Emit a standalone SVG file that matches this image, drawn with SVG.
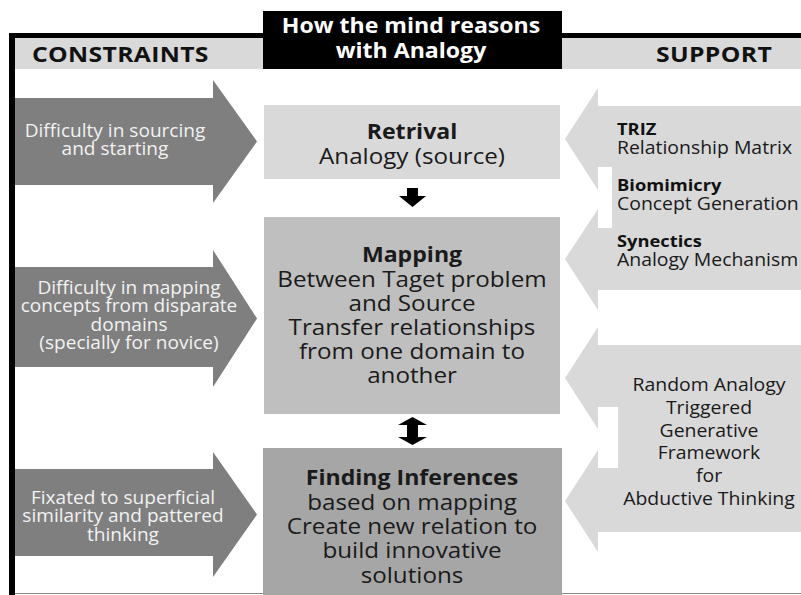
<svg xmlns="http://www.w3.org/2000/svg" width="801" height="595" viewBox="0 0 801 595">
<style>
text{font-family:"Open Sans","DejaVu Sans",sans-serif;}
.hdr{font-size:21.5px;font-weight:bold;fill:#111;letter-spacing:0.3px;}
.ttl{font-size:21px;font-weight:bold;fill:#fff;text-anchor:middle;}
.larr{fill:#7f7f7f;}
.ltx{font-size:17.5px;fill:#f2f2f2;text-anchor:middle;}
.rarr{fill:#d9d9d9;}
.rtx{font-size:17.5px;fill:#1a1a1a;}
.rtb{font-size:16.5px;fill:#111;font-weight:bold;}
.ctx{font-size:22px;fill:#1a1a1a;text-anchor:middle;}
.cb{font-weight:bold;font-size:21px;}
.conn{fill:#000;}
</style>
<rect width="801" height="595" fill="#fff"/>
<g id="frame">
<rect x="15" y="38" width="786" height="31" fill="#d9d9d9"/>
<rect x="9" y="33" width="792" height="5" fill="#000"/>
<rect x="9" y="33" width="6" height="562" fill="#000"/>
<line x1="15" y1="593.5" x2="801" y2="593.5" stroke="#8a8a8a" stroke-width="1"/>
<g transform="translate(32,0) scale(1.15,1)"><text class="hdr" x="0" y="62">CONSTRAINTS</text></g>
<g transform="translate(656,0) scale(1.15,1)"><text class="hdr" x="0" y="62">SUPPORT</text></g>
</g>
<g id="title">
<rect x="263" y="11" width="299" height="58" fill="#000"/>
<g transform="translate(411,0) scale(1.1,1)">
<text class="ttl" x="0" y="33">How the mind reasons</text>
<text class="ttl" x="0" y="58">with Analogy</text>
</g>
</g>
<g id="constraint1">
<polygon class="larr" points="15,98 213,98 213,80 257,141.5 213,203 213,185 15,185"/>
<g transform="translate(115,0) scale(1.09,1)">
<text class="ltx" x="0" y="137">Difficulty in sourcing</text>
<text class="ltx" x="0" y="155.5">and starting</text>
</g>
</g>
<g id="constraint2">
<polygon class="larr" points="15,267 213,267 213,250 257,318.5 213,387 213,367 15,367"/>
<g transform="translate(129,0) scale(1.09,1)">
<text class="ltx" x="0" y="294">Difficulty in mapping</text>
<text class="ltx" x="0" y="312.5">concepts from disparate</text>
<text class="ltx" x="0" y="331">domains</text>
<text class="ltx" x="0" y="349.5">(specially for novice)</text>
</g>
</g>
<g id="constraint3">
<polygon class="larr" points="15,469 213,469 213,452 257,514.5 213,577 213,556 15,556"/>
<g transform="translate(123,0) scale(1.09,1)">
<text class="ltx" x="0" y="504">Fixated to superficial</text>
<text class="ltx" x="0" y="522.5">similarity and pattered</text>
<text class="ltx" x="0" y="541">thinking</text>
</g>
</g>
<g id="retrival">
<rect x="264" y="105" width="296" height="74" fill="#d9d9d9"/>
<g transform="translate(412,0) scale(1.1,1)">
<text class="ctx cb" x="0" y="139">Retrival</text>
<text class="ctx" x="0" y="164">Analogy (source)</text>
</g>
</g>
<g id="mapping">
<rect x="264" y="217" width="296" height="197" fill="#bfbfbf"/>
<g transform="translate(412,0) scale(1.1,1)">
<text class="ctx cb" x="0" y="262">Mapping</text>
<text class="ctx" x="0" y="287">Between Taget problem</text>
<text class="ctx" x="0" y="311">and Source</text>
<text class="ctx" x="0" y="335">Transfer relationships</text>
<text class="ctx" x="0" y="359">from one domain to</text>
<text class="ctx" x="0" y="383">another</text>
</g>
</g>
<g id="inferences">
<rect x="263" y="448" width="299" height="147" fill="#a6a6a6"/>
<g transform="translate(412,0) scale(1.1,1)">
<text class="ctx cb" x="0" y="485">Finding Inferences</text>
<text class="ctx" x="0" y="510">based on mapping</text>
<text class="ctx" x="0" y="534">Create new relation to</text>
<text class="ctx" x="0" y="558">build innovative</text>
<text class="ctx" x="0" y="583">solutions</text>
</g>
</g>
<g id="support1">
<polygon class="rarr" points="598,88 565,139 598,190 598,167 612,167 612,228 598,228 598,209 565,259 598,310 598,290 801,290 801,106 598,106"/>
<g transform="translate(617,0) scale(1.11,1)">
<text class="rtb" x="0" y="135">TRIZ</text>
<text class="rtx" x="0" y="154">Relationship Matrix</text>
<text class="rtb" x="0" y="191">Biomimicry</text>
<text class="rtx" x="0" y="210">Concept Generation</text>
<text class="rtb" x="0" y="247">Synectics</text>
<text class="rtx" x="0" y="266">Analogy Mechanism</text>
</g>
</g>
<g id="support2">
<polygon class="rarr" points="598,327 565,378 598,429 598,407 618,407 618,468 598,468 598,450 565,501 598,552 598,532 801,532 801,345 598,345"/>
<g transform="translate(709,0) scale(1.11,1)">
<text class="rtx" x="0" y="391" text-anchor="middle">Random Analogy</text>
<text class="rtx" x="0" y="414" text-anchor="middle">Triggered</text>
<text class="rtx" x="0" y="437" text-anchor="middle">Generative</text>
<text class="rtx" x="0" y="459" text-anchor="middle">Framework</text>
<text class="rtx" x="0" y="482" text-anchor="middle">for</text>
<text class="rtx" x="0" y="505" text-anchor="middle">Abductive Thinking</text>
</g>
</g>
<g id="connectors">
<polygon class="conn" points="407,188 418,188 418,196 426,196 412.5,207 399,196 407,196"/>
<polygon class="conn" points="412.5,417 427,425 418,425 418,437 427,437 412.5,445 398,437 407,437 407,425 398,425"/>
</g>
</svg>
